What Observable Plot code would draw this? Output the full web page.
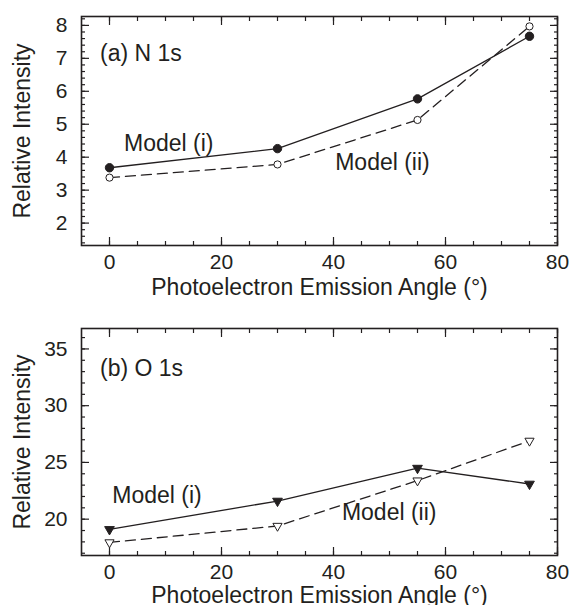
<!DOCTYPE html>
<html>
<head>
<meta charset="utf-8">
<script src="https://cdn.jsdelivr.net/npm/d3@7"></script>
<script src="https://cdn.jsdelivr.net/npm/@observablehq/plot@0.6"></script>
<style>
  html, body { margin: 0; padding: 0; background: white; }
  #chart svg { display: block; }
</style>
</head>
<body>
<div id="chart"></div>
<script>
// ---- data ----
const angles = [0, 30, 55, 75];
const n1sModelI = [3.68, 4.26, 5.77, 7.67];
const n1sModelII = [3.38, 3.78, 5.13, 7.97];
const o1sModelI = [19.1, 21.6, 24.5, 23.1];
const o1sModelII = [17.95, 19.4, 23.4, 26.9];

const xTickLabels = [0, 20, 40, 60, 80];
const xMinorTicks = d3.range(0, 81, 5);
const n1sTickLabels = [2, 3, 4, 5, 6, 7, 8];
const n1sMinorTicks = d3.range(14, 83, 2).map(d => d / 10);
const o1sTickLabels = [20, 25, 30, 35];
const o1sMinorTicks = d3.range(17, 37, 1);

const xTitle = "Photoelectron Emission Angle (°)";
const yTitle = "Relative Intensity";
const n1sNotes = [
  {x: -1.7, y: 7.15, text: "(a) N 1s"},
  {x: 2.6, y: 4.4, text: "Model (i)"},
  {x: 40.3, y: 3.83, text: "Model (ii)"}
];
const o1sNotes = [
  {x: -1.7, y: 33.3, text: "(b) O 1s"},
  {x: 0.5, y: 22.1, text: "Model (i)"},
  {x: 41.5, y: 20.6, text: "Model (ii)"}
];

const ink = "#231f20";
const fontFamily = "'Liberation Sans', Arial, Helvetica, sans-serif";

function inwardTicks(xs, ys, minor, major) {
  const blank = () => "";
  const common = {tickFormat: blank, label: null, stroke: ink, strokeWidth: 1.2};
  return [
    Plot.axisX(xs.minor, {...common, anchor: "bottom", tickSize: minor, dy: -minor}),
    Plot.axisX(xs.major, {...common, anchor: "bottom", tickSize: major, dy: -major}),
    Plot.axisX(xs.minor, {...common, anchor: "top", tickSize: minor, dy: minor}),
    Plot.axisX(xs.major, {...common, anchor: "top", tickSize: major, dy: major}),
    Plot.axisY(ys.minor, {...common, anchor: "left", tickSize: minor, dx: minor}),
    Plot.axisY(ys.major, {...common, anchor: "left", tickSize: major, dx: major}),
    Plot.axisY(ys.minor, {...common, anchor: "right", tickSize: minor, dx: -minor}),
    Plot.axisY(ys.major, {...common, anchor: "right", tickSize: major, dx: -major})
  ];
}

function panel({height, marginTop, marginBottom, yDomain, yLabels, yMinor, seriesI, seriesII, symbol, rotate, rI, rII, notes, titleDy}) {
  const rows = angles.map((a, k) => ({angle: a, m1: seriesI[k], m2: seriesII[k]}));
  return Plot.plot({
    width: 570,
    height,
    marginLeft: 81,
    marginRight: 13,
    marginTop,
    marginBottom,
    x: {domain: [-5, 80]},
    y: {domain: yDomain},
    style: {fontFamily, fontSize: "20px", color: ink, background: "white", overflow: "visible"},
    marks: [
      ...inwardTicks({minor: xMinorTicks, major: xTickLabels}, {minor: yMinor, major: yLabels}, 4, 8),
      Plot.frame({stroke: ink, strokeWidth: 1.6}),
      Plot.text(xTickLabels, {x: d => d, frameAnchor: "bottom", dy: 17, textAnchor: "middle", lineAnchor: "middle", fontSize: 21, fill: ink}),
      Plot.text(yLabels, {y: d => d, frameAnchor: "left", dx: -14, textAnchor: "end", lineAnchor: "middle", fontSize: 21, fill: ink}),
      Plot.text([xTitle], {frameAnchor: "bottom", dy: titleDy, textAnchor: "middle", lineAnchor: "middle", fontSize: 23, fill: ink}),
      Plot.text([yTitle], {frameAnchor: "left", dx: -59, rotate: -90, textAnchor: "middle", lineAnchor: "middle", fontSize: 23, fill: ink}),
      Plot.line(rows, {x: "angle", y: "m1", stroke: ink, strokeWidth: 1.3}),
      Plot.line(rows, {x: "angle", y: "m2", stroke: ink, strokeWidth: 1.3, strokeDasharray: "10,6"}),
      Plot.dot(rows, {x: "angle", y: "m1", symbol, rotate, r: rI, fill: ink, stroke: ink, strokeWidth: 1}),
      Plot.dot(rows, {x: "angle", y: "m2", symbol, rotate, r: rII, fill: "white", stroke: ink, strokeWidth: 1}),
      Plot.text(notes, {x: "x", y: "y", text: "text", textAnchor: "start", lineAnchor: "middle", fontSize: 23, fill: ink})
    ]
  });
}

const topPanel = panel({
  height: 300, marginTop: 16, marginBottom: 55,
  yDomain: [1.32, 8.27], yLabels: n1sTickLabels, yMinor: n1sMinorTicks,
  seriesI: n1sModelI, seriesII: n1sModelII,
  symbol: "circle", rotate: 0, rI: 4.2, rII: 3.6, notes: n1sNotes, titleDy: 42
});
const bottomPanel = panel({
  height: 305, marginTop: 28, marginBottom: 50,
  yDomain: [16.8, 36.8], yLabels: o1sTickLabels, yMinor: o1sMinorTicks,
  seriesI: o1sModelI, seriesII: o1sModelII,
  symbol: "triangle", rotate: 180, rI: 3.6, rII: 3.4, notes: o1sNotes, titleDy: 40
});
const chart = document.getElementById("chart");
chart.appendChild(topPanel);
chart.appendChild(bottomPanel);
</script>
</body>
</html>
